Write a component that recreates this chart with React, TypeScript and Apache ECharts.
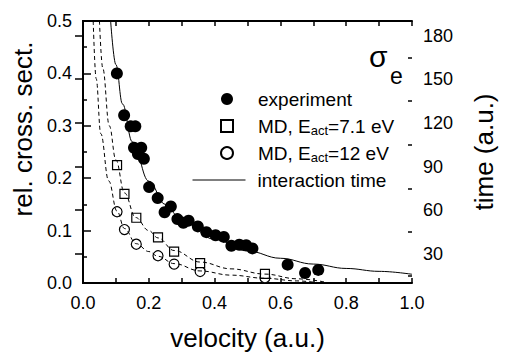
import React, { useEffect, useRef } from 'react';
import * as echarts from 'echarts';

// experiment (filled circles): velocity (a.u.) and relative cross section
const expVelocity = [0.103, 0.125, 0.145, 0.159, 0.155, 0.177, 0.167, 0.185, 0.201, 0.227, 0.248, 0.267, 0.287, 0.305, 0.321, 0.349, 0.375, 0.403, 0.428, 0.451, 0.475, 0.496, 0.515, 0.622, 0.675, 0.715];
const expCross = [0.400, 0.320, 0.299, 0.299, 0.258, 0.258, 0.246, 0.237, 0.183, 0.162, 0.135, 0.146, 0.122, 0.115, 0.119, 0.108, 0.097, 0.091, 0.088, 0.071, 0.073, 0.072, 0.066, 0.035, 0.019, 0.025];

// MD simulations
const mdVelocity = [0.1035, 0.126, 0.162, 0.228, 0.277, 0.356, 0.553];
const md71Cross = [0.225, 0.170, 0.1245, 0.087, 0.060, 0.038, 0.0176];
const md12Cross = [0.136, 0.102, 0.074, 0.052, 0.036, 0.022, 0.010];

// dashed guide curves through the MD points
const fit71Velocity = [0.050, 0.06, 0.08, 0.1, 0.126, 0.16, 0.2, 0.228, 0.277, 0.356, 0.45, 0.553, 0.65, 0.75];
const fit71Cross = [0.5, 0.41, 0.30, 0.235, 0.172, 0.125, 0.100, 0.086, 0.062, 0.040, 0.027, 0.017, 0.008, 0.0];
const fit12Velocity = [0.031, 0.04, 0.054, 0.078, 0.1035, 0.126, 0.162, 0.2, 0.228, 0.277, 0.356, 0.45, 0.553, 0.65, 0.72];
const fit12Cross = [0.5, 0.39, 0.285, 0.195, 0.137, 0.104, 0.075, 0.060, 0.051, 0.037, 0.023, 0.015, 0.009, 0.004, 0.0];

// interaction time (right axis, a.u.)
const timeVelocity = [0.084, 0.1, 0.12, 0.15, 0.2, 0.25, 0.3, 0.4, 0.5, 0.6, 0.7, 0.8, 0.9, 1.0];
const timeValues = [190, 160, 133, 107, 80, 64, 53, 40, 32, 27, 23, 20, 18, 16];

const rightLabelValues = [30, 60, 90, 120, 150, 180];
const rightMinorValues = [15, 45, 75, 105, 135, 165];

const FONT = 'Liberation Sans, Arial, sans-serif';

const zip = (xs: number[], ys: number[]) => xs.map((x, i) => [x, ys[i]]);

export default function App() {
  const ref = useRef<HTMLDivElement>(null);
  useEffect(() => {
    if (!ref.current) return;
    const chart = echarts.init(ref.current, undefined, { renderer: 'svg' });
    const axisLine = { show: true, lineStyle: { color: '#000', width: 2 } };
    const legendText = {
      fontFamily: FONT,
      fontSize: 19,
      color: '#000',
      lineHeight: 22,
      rich: {
        s: { fontFamily: FONT, fontSize: 13, color: '#000', verticalAlign: 'bottom', lineHeight: 6 },
      },
    };
    const legendFormatter = (name: string) => name.replace('Eact', 'E{s|act}');
    chart.setOption({
      animation: false,
      backgroundColor: '#fff',
      grid: { left: 83, right: 81, top: 21, bottom: 70, containLabel: false },
      xAxis: [
        {
          type: 'value', position: 'bottom', min: 0, max: 1, interval: 0.2,
          axisLine,
          axisTick: { inside: true, length: 5, lineStyle: { color: '#000', width: 1.5 } },
          minorTick: { show: true, splitNumber: 2, length: 5, lineStyle: { color: '#000', width: 1.5 } },
          splitLine: { show: false },
          axisLabel: { fontFamily: FONT, fontSize: 18, color: '#000', margin: 11, formatter: (v: number) => v.toFixed(1) },
          name: 'velocity (a.u.)', nameLocation: 'middle', nameGap: 42,
          nameTextStyle: { fontFamily: FONT, fontSize: 26, color: '#000' },
        },
        {
          type: 'value', position: 'top', min: 0, max: 1, interval: 0.2,
          axisLine,
          axisTick: { inside: true, length: 5, lineStyle: { color: '#000', width: 1.5 } },
          minorTick: { show: true, splitNumber: 2, length: 5, lineStyle: { color: '#000', width: 1.5 } },
          splitLine: { show: false },
          axisLabel: { show: false },
        },
      ],
      yAxis: [
        {
          type: 'value', position: 'left', min: 0, max: 0.5, interval: 0.1,
          axisLine,
          axisTick: { inside: true, length: 8, lineStyle: { color: '#000', width: 1.5 } },
          minorTick: { show: true, splitNumber: 2, length: 4, lineStyle: { color: '#000', width: 1.5 } },
          splitLine: { show: false },
          axisLabel: { fontFamily: FONT, fontSize: 18, color: '#000', margin: 11, formatter: (v: number) => v.toFixed(1) },
          name: 'rel. cross. sect.', nameLocation: 'middle', nameGap: 36, nameRotate: 90,
          nameTextStyle: { fontFamily: FONT, fontSize: 26, color: '#000', padding: [0, 0, 0, 46] },
        },
        {
          type: 'value', position: 'right', min: 10, max: 190,
          axisLine,
          axisTick: { inside: true, length: 8, customValues: rightLabelValues, lineStyle: { color: '#000', width: 1.5 } },
          splitLine: { show: false },
          axisLabel: { fontFamily: FONT, fontSize: 18, color: '#000', margin: 11, customValues: rightLabelValues },
          name: 'time (a.u.)', nameLocation: 'middle', nameGap: 59, nameRotate: 90,
          nameTextStyle: { fontFamily: FONT, fontSize: 26, color: '#000' },
        },
        {
          type: 'value', position: 'right', min: 10, max: 190,
          axisLine: { show: false },
          axisTick: { show: true, inside: true, length: 4, customValues: rightMinorValues, lineStyle: { color: '#000', width: 1.5 } },
          splitLine: { show: false },
          axisLabel: { show: false },
        },
      ],
      legend: [
        {
          orient: 'vertical', left: 220, top: 88, padding: 0, itemGap: 5,
          itemWidth: 52, itemHeight: 12, selectedMode: false,
          textStyle: legendText, formatter: legendFormatter,
          data: [
            { name: 'experiment', icon: 'circle' },
            { name: 'MD, Eact=7.1 eV', icon: 'path://M0,0L10,0L10,10L0,10Z' },
            { name: 'MD, Eact=12 eV', icon: 'circle' },
          ],
        },
        {
          orient: 'vertical', left: 192, top: 169, padding: 0,
          itemWidth: 53, itemHeight: 12, selectedMode: false,
          textStyle: { ...legendText, padding: [0, 0, 0, 7] },
          itemStyle: { opacity: 0 },
          lineStyle: { color: '#000', width: 1 },
          data: [{ name: 'interaction time' }],
        },
      ],
      graphic: [
        { type: 'text', left: 369, top: 41, style: { text: 'σ', fontFamily: FONT, fontSize: 30, fill: '#000' } },
        { type: 'text', left: 390, top: 64, style: { text: 'e', fontFamily: FONT, fontSize: 23, fill: '#000' } },
      ],
      series: [
        {
          name: 'fit 7.1', type: 'line', data: zip(fit71Velocity, fit71Cross), showSymbol: false, symbol: 'none',
          smooth: 0.4, smoothMonotone: 'x', silent: true,
          lineStyle: { color: '#000', width: 1, type: [4, 3] },
        },
        {
          name: 'fit 12', type: 'line', data: zip(fit12Velocity, fit12Cross), showSymbol: false, symbol: 'none',
          smooth: 0.4, smoothMonotone: 'x', silent: true,
          lineStyle: { color: '#000', width: 1, type: [4, 3] },
        },
        {
          name: 'interaction time', type: 'line', yAxisIndex: 1, data: zip(timeVelocity, timeValues),
          showSymbol: false, symbol: 'none', smooth: 0.4, smoothMonotone: 'x',
          lineStyle: { color: '#000', width: 1 }, itemStyle: { color: '#000' },
        },
        {
          name: 'MD, Eact=12 eV', type: 'scatter', data: zip(mdVelocity, md12Cross), symbol: 'circle', symbolSize: 10,
          itemStyle: { color: '#fff', borderColor: '#000', borderWidth: 1.2, opacity: 1 },
        },
        {
          name: 'MD, Eact=7.1 eV', type: 'scatter', data: zip(mdVelocity, md71Cross), symbol: 'rect', symbolSize: 9,
          itemStyle: { color: '#fff', borderColor: '#000', borderWidth: 1.2, opacity: 1 },
        },
        {
          name: 'experiment', type: 'scatter', data: zip(expVelocity, expCross), symbol: 'circle', symbolSize: 12,
          itemStyle: { color: '#000', opacity: 1 },
        },
      ],
    });
    return () => chart.dispose();
  }, []);
  return <div ref={ref} style={{ width: 505, height: 356, position: 'absolute', left: 0, top: 0 }} />;
}
